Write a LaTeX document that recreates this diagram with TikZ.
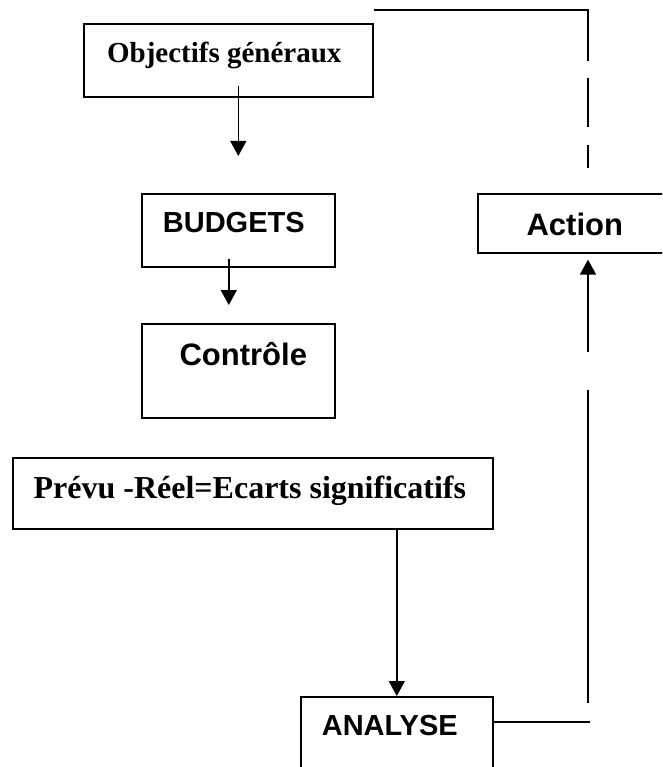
\documentclass[tikz,border=0pt]{standalone}
\usepackage{fontspec}
\setmainfont{Liberation Serif}
\setsansfont{Liberation Sans}
\usetikzlibrary{arrows.meta}
\tikzset{
  boite/.style={draw, line width=1.6pt, inner sep=0pt, anchor=north west},
  serif/.style={font=\bfseries\fontsize{#1}{#1}\selectfont},
  sans/.style={font=\sffamily\bfseries\fontsize{#1}{#1}\selectfont},
  fleche/.style={-{Triangle[length=15pt,width=16pt]}, line width=1.5pt},
  trait/.style={line width=1.5pt}
}
\begin{document}
\begin{tikzpicture}[x=1pt,y=-1pt]
  \useasboundingbox (0,0) rectangle (662,767);
  \clip (0,0) rectangle (662,767);
  \node[boite, serif=29, minimum width=289pt, text height=39pt, text depth=34pt] (obj) at (83,23) {\kern-8pt Objectifs généraux};
  \node[boite, sans=29, minimum width=193pt, text height=39pt, text depth=34pt] (budg) at (141,193) {\kern-9pt BUDGETS};
  \node[boite, sans=31, minimum width=193pt, text height=42pt, text depth=52pt] (ctrl) at (141,323) {Contrôle\kern-10pt};
  \node[boite, sans=31, minimum width=194pt, text height=42pt, text depth=17pt] (action) at (477,193) {Action};
  \node[boite, serif=32, minimum width=480pt, text height=41pt, text depth=30pt] (prevu) at (12,457) {\kern-6pt Prévu -Réel=Ecarts significatifs};
  \node[boite, sans=29, minimum width=192pt, text height=39pt, text depth=34pt] (analyse) at (300,696) {\kern-14pt ANALYSE};
  \coordinate (haut) at (588,10);
  \coordinate (coin) at (588,703);
  \draw[fleche, shorten <=-12pt, shorten >=37pt] ([xshift=10pt]obj.south) -- (budg.north);
  \draw[fleche, shorten <=-9pt, shorten >=18pt] ([xshift=-9.5pt]budg.south) -- ([xshift=-9.5pt]ctrl.north);
  \draw[fleche] (prevu.south -| analyse.north) -- (analyse.north);
  \draw[trait] ([yshift=11.5pt]analyse.east) -- ++(96,0);
  \draw[fleche, dash pattern=on 313pt off 38pt on 300pt, shorten >=6pt] (coin) -- (action.south -| coin);
  \draw[trait, dash pattern=on 265pt off 17pt on 49pt off 18pt on 40pt] (obj.north east |- haut) -- (haut) -- ([yshift=25pt]action.north -| haut);
\end{tikzpicture}
\end{document}
